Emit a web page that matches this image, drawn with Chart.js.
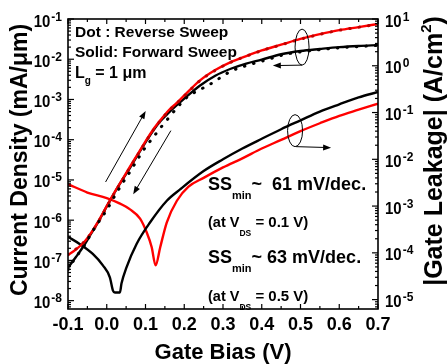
<!DOCTYPE html>
<html>
<head>
<meta charset="utf-8">
<script src="https://cdn.jsdelivr.net/npm/chart.js@4.4.1/dist/chart.umd.min.js"></script>
<style>
  html, body { margin: 0; padding: 0; background: #fff; }
  #wrap { width: 448px; height: 364px; position: relative; }
</style>
</head>
<body>
<div id="wrap"><canvas id="chart"></canvas></div>
<script>
// ---- drain current (left axis, mA/um) ----
const vgId = [-0.10, -0.08, -0.06, -0.04, -0.02, 0.00, 0.02, 0.04, 0.06, 0.08, 0.10, 0.12, 0.14,
              0.16, 0.18, 0.20, 0.24, 0.28, 0.32, 0.36, 0.40, 0.45, 0.50, 0.55, 0.60, 0.65, 0.70];
const idRedFwd = [1.35e-7, 1.86e-7, 2.74e-7, 4.9e-7, 1.0e-6, 2.24e-6, 4.9e-6, 1.02e-5, 2.14e-5, 4.4e-5, 9.1e-5, 1.8e-4, 3.2e-4,
                  5.4e-4, 8.1e-4, 1.26e-3, 2.95e-3, 5.4e-3, 8.5e-3, 1.2e-2, 1.65e-2, 2.3e-2, 3.2e-2, 4.2e-2, 5.3e-2, 6.3e-2, 7.5e-2];
const idRedRev = [1.4e-7, 1.9e-7, 2.8e-7, 4.8e-7, 9.6e-7, 2.15e-6, 4.7e-6, 9.8e-6, 2.05e-5, 4.2e-5, 8.7e-5, 1.72e-4, 3.1e-4,
                  5.2e-4, 7.9e-4, 1.22e-3, 2.9e-3, 5.3e-3, 8.4e-3, 1.19e-2, 1.64e-2, 2.28e-2, 3.15e-2, 4.15e-2, 5.25e-2, 6.25e-2, 7.45e-2];
const idBlackFwd = [6.6e-8, 1.2e-7, 2.25e-7, 4.7e-7, 9.8e-7, 2.2e-6, 4.8e-6, 1.0e-5, 2.0e-5, 4.2e-5, 8.6e-5, 1.7e-4, 3.0e-4,
                    4.7e-4, 7.1e-4, 1.05e-3, 2.2e-3, 3.9e-3, 5.8e-3, 7.8e-3, 9.8e-3, 1.33e-2, 1.6e-2, 1.8e-2, 2.0e-2, 2.14e-2, 2.24e-2];
const vgBlackRev = [-0.10, -0.08, -0.06, -0.04, -0.02, 0.00, 0.02, 0.04, 0.06, 0.08, 0.10, 0.12, 0.14,
                    0.16, 0.18, 0.21, 0.24, 0.27, 0.32, 0.37, 0.415, 0.467, 0.52, 0.58, 0.64, 0.70];
const idBlackRev = [5.9e-8, 1.2e-7, 2.15e-7, 4.7e-7, 9.3e-7, 1.8e-6, 3.9e-6, 8.1e-6, 1.6e-5, 3.3e-5, 6.5e-5, 1.15e-4, 2.05e-4,
                    3.5e-4, 6.0e-4, 1.2e-3, 1.74e-3, 2.5e-3, 5.0e-3, 7.4e-3, 9.8e-3, 1.36e-2, 1.6e-2, 1.85e-2, 2.04e-2, 2.2e-2];

// ---- gate leakage (right axis, A/cm2) ----
const vgLeakBlack = [-0.10, -0.07, -0.036, -0.01, 0.008, 0.016, 0.021, 0.034, 0.038, 0.051, 0.077, 0.112,
                     0.155, 0.19, 0.25, 0.30, 0.35, 0.40, 0.45, 0.50, 0.55, 0.60, 0.65, 0.70];
const leakBlack = [2.2e-4, 1.55e-4, 9.5e-5, 5.4e-5, 3.0e-5, 1.56e-5, 1.42e-5, 1.42e-5, 2.2e-5, 4.9e-5, 1.55e-4, 4.5e-4,
                   1.3e-3, 2.3e-3, 5.6e-3, 1.0e-2, 1.7e-2, 2.75e-2, 4.4e-2, 6.8e-2, 1.05e-1, 1.5e-1, 2.1e-1, 2.75e-1];
const vgLeakRed = [-0.10, -0.05, 0.00, 0.03, 0.06, 0.086, 0.103, 0.116, 0.126, 0.138, 0.155, 0.181,
                   0.211, 0.25, 0.30, 0.35, 0.40, 0.45, 0.50, 0.55, 0.60, 0.65, 0.70];
const leakRed = [2.95e-3, 1.95e-3, 1.48e-3, 1.17e-3, 8.5e-4, 5.4e-4, 2.75e-4, 1.32e-4, 5.4e-5, 1.32e-4, 4.5e-4, 1.3e-3,
                 2.6e-3, 4.0e-3, 6.7e-3, 1.05e-2, 1.7e-2, 2.6e-2, 4.0e-2, 5.9e-2, 8.5e-2, 1.15e-1, 1.55e-1];

// ---- axes ----
const xTickValues = [-0.1, 0.0, 0.1, 0.2, 0.3, 0.4, 0.5, 0.6, 0.7];
const xTickLabels = ["-0.1", "0.0", "0.1", "0.2", "0.3", "0.4", "0.5", "0.6", "0.7"];
const leftExponents = [-1, -2, -3, -4, -5, -6, -7, -8];
const rightExponents = [1, 0, -1, -2, -3, -4, -5];

const FONT = '"Liberation Sans", Arial, sans-serif';

function pts(xs, ys) {
    return ys.map(function (y, i) { return { x: xs[i], y: y }; });
}

function line(data, color, axis, dotted) {
    const ds = {
        data: data,
        yAxisID: axis,
        borderColor: color,
        borderWidth: dotted ? 3 : 2.4,
        pointRadius: 0,
        fill: false,
        cubicInterpolationMode: "monotone"
    };
    if (dotted) {
        ds.borderDash = [0.5, 9];
        ds.borderCapStyle = "round";
    }
    return ds;
}

function drawRich(ctx, parts, x, y) {
    // parts: [text, size, dy]
    let cx = x;
    parts.forEach(function (p) {
        ctx.font = "bold " + p[1] + "px " + FONT;
        ctx.fillText(p[0], cx, y + (p[2] || 0));
        cx += ctx.measureText(p[0]).width;
    });
}

function drawArrow(ctx, x1, y1, x2, y2) {
    const ang = Math.atan2(y2 - y1, x2 - x1);
    const L = 8, W = 3;
    ctx.beginPath();
    ctx.moveTo(x1, y1);
    ctx.lineTo(x2 - Math.cos(ang) * L * 0.8, y2 - Math.sin(ang) * L * 0.8);
    ctx.stroke();
    ctx.beginPath();
    ctx.moveTo(x2, y2);
    ctx.lineTo(x2 - L * Math.cos(ang) + W * Math.sin(ang), y2 - L * Math.sin(ang) - W * Math.cos(ang));
    ctx.lineTo(x2 - L * Math.cos(ang) - W * Math.sin(ang), y2 - L * Math.sin(ang) + W * Math.cos(ang));
    ctx.closePath();
    ctx.fill();
}

// power-of-ten label: "10" with a raised exponent
function drawPow(ctx, exp, x, y, alignRight) {
    ctx.font = "bold 17px " + FONT;
    const w1 = ctx.measureText("10").width * 0.88;
    ctx.font = "bold 12px " + FONT;
    const sup = exp > 0 ? String(exp) : (exp === 0 ? "0" : "-" + Math.abs(exp));
    const w2 = ctx.measureText(sup).width;
    const x0 = alignRight ? x - w1 - w2 - 1 : x;
    ctx.save();
    ctx.translate(x0, y + 7.5);
    ctx.scale(0.88, 1);
    ctx.font = "bold 17px " + FONT;
    ctx.fillText("10", 0, 0);
    ctx.restore();
    ctx.font = "bold 12px " + FONT;
    ctx.fillText(sup, x0 + w1 + 1, y + 1.5);
}

const decor = {
    id: "decor",
    afterDraw(chart) {
        const ctx = chart.ctx;
        const a = chart.chartArea;
        const sx = chart.scales.x, sl = chart.scales.yL, sr = chart.scales.yR;
        ctx.save();
        ctx.fillStyle = "#000";
        ctx.strokeStyle = "#000";

        // frame
        ctx.lineWidth = 1.6;
        ctx.strokeRect(a.left, a.top, a.right - a.left, a.bottom - a.top);

        // x ticks, top and bottom, pointing inward
        ctx.lineWidth = 1.2;
        for (let k = -2; k <= 14; k++) {
            const px = sx.getPixelForValue(k * 0.05);
            const len = k % 2 === 0 ? 5 : 3;
            ctx.beginPath();
            ctx.moveTo(px, a.bottom); ctx.lineTo(px, a.bottom - len);
            ctx.moveTo(px, a.top); ctx.lineTo(px, a.top + len);
            ctx.stroke();
        }

        // log ticks, left and right
        function logTicks(scale, xEdge, dir) {
            for (let e = -10; e <= 2; e++) {
                for (let m = 1; m <= 9; m++) {
                    const v = m * Math.pow(10, e);
                    if (v < scale.min * 0.999 || v > scale.max * 1.001) continue;
                    const py = scale.getPixelForValue(v);
                    const len = m === 1 ? 6 : 3;
                    ctx.beginPath();
                    ctx.moveTo(xEdge, py); ctx.lineTo(xEdge + dir * len, py);
                    ctx.stroke();
                }
            }
        }
        logTicks(sl, a.left, 1);
        logTicks(sr, a.right, -1);

        // tick labels
        ctx.textBaseline = "alphabetic";
        ctx.textAlign = "left";
        leftExponents.forEach(function (e) {
            drawPow(ctx, e, a.left - 6, sl.getPixelForValue(Math.pow(10, e)), true);
        });
        rightExponents.forEach(function (e) {
            drawPow(ctx, e, a.right + 7, sr.getPixelForValue(Math.pow(10, e)), false);
        });
        ctx.font = "bold 18px " + FONT;
        ctx.textAlign = "center";
        xTickValues.forEach(function (v, i) {
            ctx.fillText(xTickLabels[i], sx.getPixelForValue(v), a.bottom + 21);
        });

        // axis titles
        ctx.font = "bold 22px " + FONT;
        ctx.fillText("Gate Bias (V)", (a.left + a.right) / 2, 359);

        ctx.save();
        ctx.translate(27, 160);
        ctx.rotate(-Math.PI / 2);
        ctx.font = "bold 23px " + FONT;
        ctx.fillText("Current Density (mA/\u03bcm)", 0, 0);
        ctx.restore();

        ctx.save();
        ctx.translate(442, 151);
        ctx.rotate(-Math.PI / 2);
        ctx.textAlign = "left";
        ctx.font = "bold 25px " + FONT;
        const t1 = "|Gate Leakage| (A/cm";
        const w1 = ctx.measureText(t1).width;
        const w3 = ctx.measureText(")").width;
        ctx.font = "bold 15px " + FONT;
        const w2 = ctx.measureText("2").width;
        const start = -(w1 + w2 + w3) / 2;
        ctx.font = "bold 25px " + FONT;
        ctx.fillText(t1, start, 0);
        ctx.font = "bold 15px " + FONT;
        ctx.fillText("2", start + w1, -11);
        ctx.font = "bold 25px " + FONT;
        ctx.fillText(")", start + w1 + w2, 0);
        ctx.restore();

        // in-plot notes
        ctx.textAlign = "left";
        drawRich(ctx, [["Dot : Reverse Sweep", 15.5]], 75, 37);
        drawRich(ctx, [["Solid: Forward Sweep", 15.5]], 75, 57);
        drawRich(ctx, [["L", 16], ["g", 10, 6], [" = 1 \u03bcm", 16]], 75, 78);
        drawRich(ctx, [["SS", 18], ["min", 11, 9], ["~  61 mV/dec.", 18]], 208, 190);
        drawRich(ctx, [["(at V", 14.5], ["DS", 8.5, 9], [" = 0.1 V)", 15]], 208, 227);
        drawRich(ctx, [["SS", 18], ["min", 11, 9], ["~ 63 mV/dec.", 18]], 208, 263);
        drawRich(ctx, [["(at V", 14.5], ["DS", 8.5, 9], [" = 0.5 V)", 15]], 208, 301);

        // sweep direction arrows
        ctx.lineWidth = 1;
        drawArrow(ctx, sx.getPixelForValue(-0.003), sl.getPixelForValue(8.9e-6),
                       sx.getPixelForValue(0.1005), sl.getPixelForValue(5.2e-4));
        drawArrow(ctx, sx.getPixelForValue(0.1655), sl.getPixelForValue(1.68e-4),
                       sx.getPixelForValue(0.0683), sl.getPixelForValue(4.4e-6));

        // ellipses marking which axis each pair uses
        const ex1 = sx.getPixelForValue(0.504), ey1 = sl.getPixelForValue(2.0e-2);
        ctx.beginPath(); ctx.ellipse(ex1, ey1, 7, 18, 0, 0, Math.PI * 2); ctx.stroke();
        drawArrow(ctx, ex1, ey1 + 18, sx.getPixelForValue(0.4286), ey1 + 18.5);
        const ex2 = sx.getPixelForValue(0.486), ey2 = sr.getPixelForValue(4.1e-2);
        ctx.beginPath(); ctx.ellipse(ex2, ey2, 7.5, 16, 0, 0, Math.PI * 2); ctx.stroke();
        drawArrow(ctx, ex2 + 1, ey2 + 16, sx.getPixelForValue(0.579), ey2 + 17);

        ctx.restore();
    }
};

new Chart(document.getElementById("chart"), {
    type: "line",
    data: {
        datasets: [
            line(pts(vgBlackRev, idBlackRev), "#000000", "yL", true),
            line(pts(vgId, idRedRev), "#c00000", "yL", true),
            line(pts(vgId, idRedFwd), "#ff0000", "yL", false),
            line(pts(vgId, idBlackFwd), "#000000", "yL", false),
            line(pts(vgLeakBlack, leakBlack), "#000000", "yR", false),
            line(pts(vgLeakRed, leakRed), "#ff0000", "yR", false)
        ]
    },
    options: {
        responsive: true,
        maintainAspectRatio: false,
        animation: false,
        layout: { padding: { left: 68, top: 19, right: 70, bottom: 55 } },
        plugins: { legend: { display: false }, tooltip: { enabled: false } },
        scales: {
            x: { type: "linear", min: -0.1, max: 0.7, display: false },
            yL: { type: "logarithmic", position: "left", min: 6.2e-9, max: 1e-1, display: false },
            yR: { type: "logarithmic", position: "right", min: 6.3e-6, max: 1e1, display: false }
        }
    },
    plugins: [decor]
});
</script>
</body>
</html>
